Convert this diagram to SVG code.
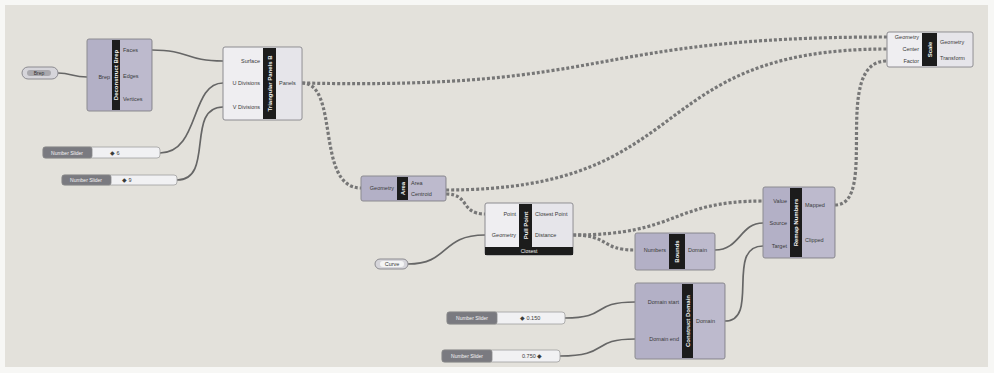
<svg xmlns="http://www.w3.org/2000/svg" width="994" height="373" viewBox="0 0 994 373">
<defs>
<style>
.cmp{stroke:#8c8b90;stroke-width:1}
.pur{fill:#b3b0c6}
.pur2{fill:#bdbacd}
.wht{fill:#efeef1}
.wht2{fill:#e6e5ea}
.bar{fill:#1c1c1c}
.t{font-family:"Liberation Sans",Arial,sans-serif;font-size:5.5px;fill:#3a3a3a}
.ti{text-anchor:end}
.tt{font-family:"Liberation Sans",Arial,sans-serif;font-size:6px;fill:#f2f2f2;text-anchor:middle;font-weight:bold}
.wire{fill:none;stroke:#666;stroke-width:1.7}
.dw{fill:none;stroke:#777;stroke-width:3.2;stroke-dasharray:3 2}
.sl{fill:#7a7a80;stroke:#888;stroke-width:0.8}
.sv{fill:#f1f1f3;stroke:#a0a0a0;stroke-width:0.8}
.st{font-family:"Liberation Sans",Arial,sans-serif;font-size:5px;fill:#f4f4f4}
.grip{fill:#555}
</style>
</defs>
<rect x="0" y="0" width="994" height="373" fill="#f7f7f5"/>
<rect x="5" y="5" width="983" height="362" fill="#e3e1db"/>

<g id="connectors">
<path class="wire" d="M58 73 C72 73 72 77 87 77"/>
<path class="wire" d="M152 50 C190 50 185 61 223 61"/>
<path class="wire" d="M160 153 C200 153 190 83 223 83"/>
<path class="wire" d="M177 180 C215 180 185 107 223 107"/>
<path class="dw" d="M302 83 C620 90 580 37 887 37"/>
<path class="dw" d="M302 83 C340 83 315 188 361 188"/>
<path class="dw" d="M446 194 C470 194 460 214 485 214"/>
<path class="dw" d="M446 190 C700 190 640 49 887 49"/>
<path class="wire" d="M408 264 C450 264 440 235 485 235"/>
<path class="dw" d="M573 235 C610 235 600 250 635 250"/>
<path class="dw" d="M573 235 C680 235 670 201 763 201"/>
<path class="wire" d="M715 250 C740 250 740 223 763 223"/>
<path class="wire" d="M725 321 C760 321 725 246 763 246"/>
<path class="dw" d="M835 205 C880 205 830 61 887 61"/>
<path class="wire" d="M565 318 C610 318 590 302 635 302"/>
<path class="wire" d="M560 356 C610 356 590 339 635 339"/>
</g>

<g id="brep-param">
<rect x="22" y="67" width="36" height="12" rx="6" fill="#d6d5da" stroke="#8c8b90"/>
<rect x="27" y="70" width="24" height="6" rx="3" fill="#a9a8ad"/>
<text class="st" x="39" y="75" text-anchor="middle" fill="#333" style="fill:#333">Brep</text>
</g>

<g id="deconstruct-brep">
<rect class="cmp pur" x="87" y="39" width="65" height="72" rx="2"/>
<rect class="pur2" x="120" y="40" width="31" height="70"/>
<rect class="bar" x="112" y="40" width="8" height="70"/>
<text class="tt" transform="translate(118 75) rotate(-90)">Deconstruct Brep</text>
<text class="t ti" x="110" y="79">Brep</text>
<text class="t" x="123" y="52">Faces</text>
<text class="t" x="123" y="78">Edges</text>
<text class="t" x="123" y="101">Vertices</text>
</g>

<g id="triangular-panels">
<rect class="cmp wht" x="223" y="47" width="79" height="73" rx="2"/>
<rect class="wht2" x="276" y="48" width="25" height="71"/>
<rect class="bar" x="263" y="48" width="13" height="71"/>
<text class="tt" transform="translate(271.5 83.5) rotate(-90)">Triangular Panels B</text>
<text class="t ti" x="260" y="63">Surface</text>
<text class="t ti" x="260" y="85">U Divisions</text>
<text class="t ti" x="260" y="109">V Divisions</text>
<text class="t" x="279" y="85">Panels</text>
</g>

<g id="slider-u">
<rect class="sv" x="43" y="147" width="117" height="11" rx="3"/>
<rect class="sl" x="43" y="147" width="49" height="11" rx="2"/>
<text class="st" x="67" y="154.5" text-anchor="middle">Number Slider</text>
<text class="t" x="110" y="154.5">◆ 6</text>
</g>

<g id="slider-v">
<rect class="sv" x="62" y="175" width="115" height="10" rx="3"/>
<rect class="sl" x="62" y="175" width="49" height="10" rx="2"/>
<text class="st" x="86" y="182" text-anchor="middle">Number Slider</text>
<text class="t" x="122" y="182">◆ 9</text>
</g>

<g id="area">
<rect class="cmp pur" x="361" y="176" width="85" height="25" rx="2"/>
<rect class="pur2" x="408" y="177" width="37" height="23"/>
<rect class="bar" x="397" y="177" width="11" height="23"/>
<text class="tt" transform="translate(404.5 188.5) rotate(-90)">Area</text>
<text class="t ti" x="394" y="190">Geometry</text>
<text class="t" x="411" y="185">Area</text>
<text class="t" x="411" y="196">Centroid</text>
</g>

<g id="curve-param">
<rect x="375" y="259" width="33" height="10" rx="5" fill="#d6d5da" stroke="#8c8b90"/>
<rect x="380" y="261" width="24" height="6" rx="3" fill="#f4f4f4"/>
<text class="t" x="392" y="266" text-anchor="middle">Curve</text>
</g>

<g id="pull-point">
<rect class="cmp wht" x="485" y="203" width="88" height="52" rx="2"/>
<rect class="wht2" x="532" y="204" width="40" height="43"/>
<rect class="bar" x="519" y="204" width="13" height="43"/>
<rect class="bar" x="485" y="247" width="88" height="8"/>
<text class="tt" transform="translate(527.5 225.5) rotate(-90)">Pull Point</text>
<text class="t ti" x="516" y="216">Point</text>
<text class="t ti" x="516" y="237">Geometry</text>
<text class="t" x="535" y="216">Closest Point</text>
<text class="t" x="535" y="237">Distance</text>
<text class="tt" x="529" y="253" style="font-weight:normal;font-size:5px">Closest</text>
</g>

<g id="bounds">
<rect class="cmp pur" x="635" y="233" width="80" height="37" rx="2"/>
<rect class="pur2" x="685" y="234" width="29" height="35"/>
<rect class="bar" x="669" y="234" width="16" height="35"/>
<text class="tt" transform="translate(679 251.5) rotate(-90)">Bounds</text>
<text class="t ti" x="666" y="252">Numbers</text>
<text class="t" x="688" y="252">Domain</text>
</g>

<g id="remap-numbers">
<rect class="cmp pur" x="763" y="187" width="72" height="71" rx="2"/>
<rect class="pur2" x="802" y="188" width="32" height="69"/>
<rect class="bar" x="790" y="188" width="12" height="69"/>
<text class="tt" transform="translate(798 222.5) rotate(-90)">Remap Numbers</text>
<text class="t ti" x="787" y="203">Value</text>
<text class="t ti" x="787" y="225">Source</text>
<text class="t ti" x="787" y="248">Target</text>
<text class="t" x="805" y="207">Mapped</text>
<text class="t" x="805" y="242">Clipped</text>
</g>

<g id="construct-domain">
<rect class="cmp pur" x="635" y="283" width="90" height="76" rx="2"/>
<rect class="pur2" x="693" y="284" width="31" height="74"/>
<rect class="bar" x="682" y="284" width="11" height="74"/>
<text class="tt" transform="translate(689.5 321) rotate(-90)">Construct Domain</text>
<text class="t ti" x="679" y="304">Domain start</text>
<text class="t ti" x="679" y="341">Domain end</text>
<text class="t" x="696" y="323">Domain</text>
</g>

<g id="slider-start">
<rect class="sv" x="447" y="312" width="118" height="12" rx="3"/>
<rect class="sl" x="447" y="312" width="50" height="12" rx="2"/>
<text class="st" x="472" y="320" text-anchor="middle">Number Slider</text>
<text class="t" x="520" y="320">◆ 0.150</text>
</g>

<g id="slider-end">
<rect class="sv" x="442" y="350" width="118" height="12" rx="3"/>
<rect class="sl" x="442" y="350" width="50" height="12" rx="2"/>
<text class="st" x="467" y="358" text-anchor="middle">Number Slider</text>
<text class="t" x="522" y="358">0.750 ◆</text>
</g>

<g id="scale">
<rect class="cmp wht" x="887" y="32" width="86" height="35" rx="2"/>
<rect class="wht2" x="937" y="33" width="35" height="33"/>
<rect class="bar" x="922" y="33" width="15" height="33"/>
<text class="tt" transform="translate(931.5 49.5) rotate(-90)">Scale</text>
<text class="t ti" x="919" y="39">Geometry</text>
<text class="t ti" x="919" y="51">Center</text>
<text class="t ti" x="919" y="63">Factor</text>
<text class="t" x="940" y="44">Geometry</text>
<text class="t" x="940" y="60">Transform</text>
</g>
</svg>
